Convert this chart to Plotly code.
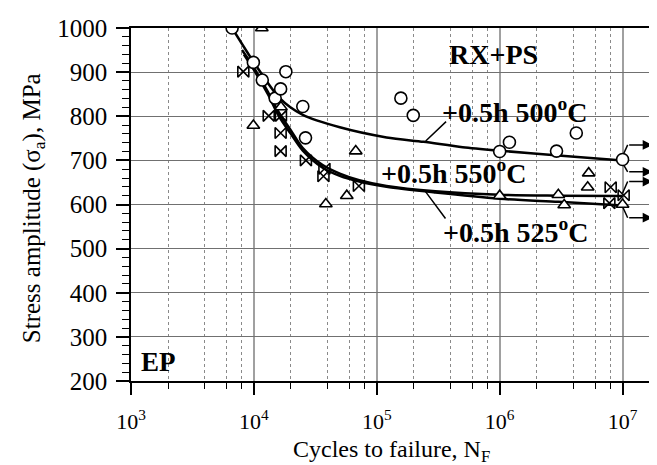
import numpy as np
import plotly.graph_objects as go

# ---------------- data ----------------
# +0.5h 500°C (circles)
N_500 = [6650, 9900, 11700, 14900, 16500, 18200, 25000, 26300, 1.57e5, 1.98e5,
         1.0e6, 1.2e6, 2.9e6, 4.2e6, 1.0e7]
S_500 = [1000, 922, 882, 841, 862, 901, 822, 751, 841, 802, 720, 741, 721, 762, 702]

# +0.5h 550°C (triangles)
N_550 = [11600, 9900, 16600, 38500, 57000, 67400, 1.0e6, 3.0e6, 3.35e6, 5.3e6, 5.2e6, 1.0e7]
S_550 = [1000, 779, 821, 601, 620, 721, 620, 622, 599, 671, 639, 600]

# +0.5h 525°C (bowties)
N_525 = [8200, 13200, 16600, 16500, 16500, 26500, 37500, 36800, 71500, 8.0e6, 1.02e7, 7.8e6]
S_525 = [901, 801, 801, 762, 721, 700, 681, 664, 642, 639, 621, 603]

# fitted curves
fitN_500 = [6650, 9900, 16200, 25000, 50000, 1.2e5, 2.4e5, 5e5, 1e6, 3e6, 1e7]
fitS_500 = [1000, 924, 841, 803, 775, 752, 742, 730, 722, 711, 700]

fitN_550 = [8000, 10000, 13000, 16000, 20000, 25000, 36000, 50000, 72000, 1.2e5, 3e5, 1e6, 3e6, 1e7]
fitS_550 = [950, 910, 855, 808, 768, 728, 690, 670, 655, 642, 630, 622, 620, 619]

fitN_525 = [8300, 10000, 13000, 16000, 20000, 25000, 36000, 50000, 72000, 1.2e5, 3e5, 1e6, 3e6, 1e7]
fitS_525 = [940, 905, 850, 800, 760, 722, 684, 665, 652, 640, 627, 613, 606, 598]

# run-out arrows: start at marker, elbow, arrow tip
run_N0 = [1.0e7, 1.0e7, 1.0e7, 1.0e7]
run_S0 = [710, 694, 626, 595]
run_S1 = [735, 674, 652, 570]
run_Nelbow = 1.1e7
run_Nend = 1.75e7

# text labels: text, log10(N) centre, stress centre, half width px
labels = [("<b>RX+PS</b>", 5.946, 941, 47),
          ("<b>+0.5h 500<sup>o</sup>C</b>", 6.127, 814, 75),
          ("<b>+0.5h 550<sup>o</sup>C</b>", 5.629, 675, 75),
          ("<b>+0.5h 525<sup>o</sup>C</b>", 6.129, 542, 75)]

# axis ticks
x_tickvals = [1e3, 1e4, 1e5, 1e6, 1e7]
x_ticktext = ["10<sup>3</sup>", "10<sup>4</sup>", "10<sup>5</sup>", "10<sup>6</sup>", "10<sup>7</sup>"]
x_minor = [m * 10 ** e for e in range(3, 8) for m in (2, 4, 6, 8)]
X_RANGE = [3, 7.28]
Y_RANGE = [200, 1000]

FONT = "Liberation Serif"

fig = go.Figure()

for fn, fs in [(fitN_500, fitS_500), (fitN_550, fitS_550), (fitN_525, fitS_525)]:
    fig.add_trace(go.Scatter(x=fn, y=fs, mode="lines",
                             line=dict(color="black", width=2.5, shape="spline", smoothing=0.8),
                             hoverinfo="skip", showlegend=False))

# run-out elbow segments
for n0, s0, s1 in zip(run_N0, run_S0, run_S1):
    fig.add_trace(go.Scatter(x=[n0, run_Nelbow], y=[s0, s1], mode="lines",
                             line=dict(color="black", width=1.5), showlegend=False, hoverinfo="skip"))

mk_line = dict(color="black", width=1.6)
fig.add_trace(go.Scatter(x=N_500, y=S_500, mode="markers", showlegend=False,
                         marker=dict(symbol="circle", size=12, color="white", line=mk_line)))
fig.add_trace(go.Scatter(x=N_550, y=S_550, mode="markers", showlegend=False,
                         marker=dict(symbol="triangle-up", size=11, color="white", line=mk_line)))
fig.add_trace(go.Scatter(x=N_525, y=S_525, mode="markers", showlegend=False,
                         marker=dict(symbol="bowtie-open", size=11, color="black", line=mk_line)))

annotations = []
for s1 in run_S1:
    annotations.append(dict(x=np.log10(run_Nend), y=s1, ax=np.log10(run_Nelbow), ay=s1,
                            xref="x", yref="y", axref="x", ayref="y", text="",
                            showarrow=True, arrowhead=2, arrowsize=1.3, arrowwidth=1.5,
                            arrowcolor="black"))

# leader lines for labels
annotations.append(dict(x=5.398, y=744, ax=5.576, ay=791,
                        xref="x", yref="y", axref="x", ayref="y", text="",
                        showarrow=True, arrowhead=0, arrowwidth=1.5, arrowcolor="black"))
annotations.append(dict(x=5.389, y=632, ax=5.568, ay=565,
                        xref="x", yref="y", axref="x", ayref="y", text="",
                        showarrow=True, arrowhead=0, arrowwidth=1.5, arrowcolor="black"))

shapes = []
for text, lx, ly, hw in labels:
    annotations.append(dict(x=lx, y=ly, xref="x", yref="y", text=text, showarrow=False,
                            xanchor="center", yanchor="middle",
                            font=dict(family=FONT, size=28, color="black")))
    # white patch hiding the grid behind the label (drawn under the data)
    shapes.append(dict(type="rect", layer="between", xref="paper", yref="paper",
                       xsizemode="pixel", ysizemode="pixel",
                       xanchor=(lx - X_RANGE[0]) / (X_RANGE[1] - X_RANGE[0]),
                       yanchor=(ly - Y_RANGE[0]) / (Y_RANGE[1] - Y_RANGE[0]),
                       x0=-hw, x1=hw, y0=-13, y1=13,
                       fillcolor="white", line=dict(width=0)))

annotations.append(dict(x=3.062, y=243, xref="x", yref="y", text="<b>EP</b>",
                        showarrow=False, xanchor="left", yanchor="middle",
                        font=dict(family=FONT, size=27, color="black")))

# axis titles
annotations.append(dict(x=0.496, y=-0.198, xref="paper", yref="paper",
                        text="Cycles to failure, N<sub>F</sub>", showarrow=False,
                        xanchor="center", yanchor="middle",
                        font=dict(family=FONT, size=24, color="black")))
annotations.append(dict(x=-0.186, y=0.49, xref="paper", yref="paper",
                        text="Stress amplitude (σ<sub>a</sub>), MPa", showarrow=False,
                        textangle=-90, xanchor="center", yanchor="middle",
                        font=dict(family=FONT, size=25, color="black")))

fig.update_layout(
    width=657, height=465,
    margin=dict(l=123, r=6, t=20, b=92),
    paper_bgcolor="white", plot_bgcolor="white",
    font=dict(family=FONT, size=23, color="black"),
    annotations=annotations, shapes=shapes,
    xaxis=dict(type="log", range=X_RANGE, tickvals=x_tickvals, ticktext=x_ticktext,
               ticks="outside", ticklen=12, tickwidth=1.5, tickcolor="black",
               ticklabelstandoff=8,
               showline=True, linecolor="black", linewidth=1.5, mirror=True,
               showgrid=True, gridcolor="#a0a0a0", gridwidth=1.5, zeroline=False,
               tickfont=dict(family=FONT, size=22),
               minor=dict(tickvals=x_minor, ticks="outside", ticklen=6, tickwidth=1.2,
                          tickcolor="black", showgrid=True, gridcolor="#8a8a8a",
                          griddash="dot", gridwidth=1)),
    yaxis=dict(range=Y_RANGE, dtick=100, tick0=0,
               ticks="outside", ticklen=13, tickwidth=1.5, tickcolor="black",
               ticklabelstandoff=4,
               showline=True, linecolor="black", linewidth=1.5, mirror=True,
               showgrid=True, gridcolor="#707070", gridwidth=1.2, zeroline=False,
               tickfont=dict(family=FONT, size=25),
               minor=dict(dtick=20, ticks="outside", ticklen=7, tickwidth=1.2,
                          tickcolor="black", showgrid=False)),
)

fig.write_html("out.html")
